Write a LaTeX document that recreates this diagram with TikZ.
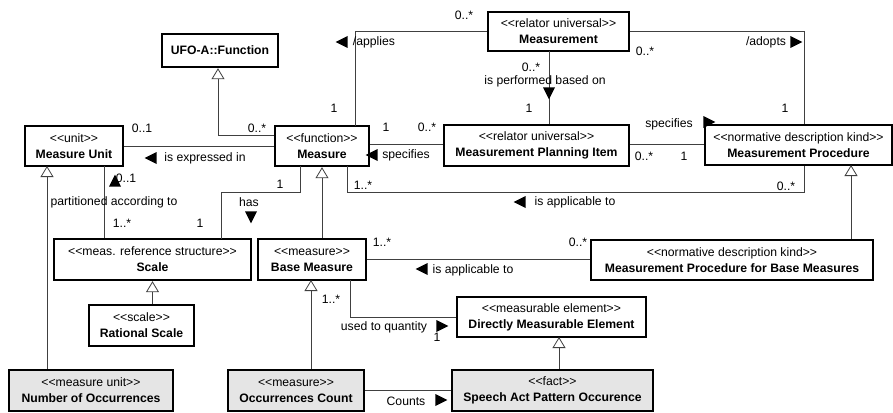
\documentclass[tikz,border=0pt]{standalone}
\usepackage{fontspec}
\setmainfont{Liberation Sans}
\usetikzlibrary{arrows.meta,shapes.geometric}
\newcommand\sto[1]{<\kern0pt<#1>\kern0pt>}
\begin{document}
\begin{tikzpicture}[x=1pt,y=-1pt,
  font=\fontsize{12.2}{16}\selectfont,
  box/.style={draw=black, line width=2.4pt, fill=white, inner sep=0pt, align=center},
  shaded/.style={box, fill=black!10},
  conn/.style={draw=black!75, line width=0.8pt},
  gen/.style={conn, -{Triangle[width=13pt,length=11pt,fill=white]}},
  lbl/.style={inner sep=0pt},
  tri/.style={isosceles triangle, isosceles triangle stretches, fill=black, draw=none,
              inner sep=0pt, minimum height=12pt, minimum width=12pt},
  tl/.style={tri, shape border rotate=180},
  tr/.style={tri, shape border rotate=0},
  tu/.style={tri, shape border rotate=90},
  td/.style={tri, shape border rotate=270}]
\useasboundingbox (0,0) rectangle (893,412);

% bend points of connectors
\coordinate (c1) at (218,135);
\coordinate (c2) at (355,126);
\coordinate (c3) at (549,51);
\coordinate (c4) at (804,32);
\coordinate (c5) at (347,166);
\coordinate (c6) at (104,166);
\coordinate (c7) at (300,166);
\coordinate (c8) at (47,166);
\coordinate (c9) at (851,165);
\coordinate (c10) at (350,280);
\coordinate (c11) at (559,337);

% boxes
\node[box, minimum width=116pt, minimum height=33pt] (ufo) at (220,50.5) {\textbf{UFO-A::Function}};
\node[box, minimum width=98pt, minimum height=40pt] (mu) at (74,146) {\sto{unit}\\\textbf{Measure Unit}};
\node[box, minimum width=94pt, minimum height=40pt] (meas) at (322,146) {\sto{function}\\\textbf{Measure}};
\node[box, minimum width=141pt, minimum height=39pt] (msmt) at (558.5,31.5) {\sto{relator universal}\\\textbf{Measurement}};
\node[box, minimum width=185pt, minimum height=41pt] (mpi) at (536.5,145.5) {\sto{relator universal}\\\textbf{Measurement Planning Item}};
\node[box, minimum width=187pt, minimum height=40pt] (mp) at (798.5,145) {\sto{normative description kind}\\\textbf{Measurement Procedure}};
\node[box, minimum width=197pt, minimum height=41pt] (scale) at (152.5,259.5) {\sto{meas. reference structure}\\\textbf{Scale}};
\node[box, minimum width=105pt, minimum height=41pt] (rs) at (141.5,325.5) {\sto{scale}\\\textbf{Rational Scale}};
\node[box, minimum width=108pt, minimum height=41pt] (bm) at (312,259.5) {\sto{measure}\\\textbf{Base Measure}};
\node[box, minimum width=282pt, minimum height=40pt] (mpbm) at (732,260) {\sto{normative description kind}\\\textbf{Measurement Procedure for Base Measures}};
\node[box, minimum width=189pt, minimum height=40pt] (dme) at (551.5,317) {\sto{measurable element}\\\textbf{Directly Measurable Element}};
\node[shaded, minimum width=164pt, minimum height=41pt] (noo) at (91,390.5) {\sto{measure unit}\\\textbf{Number of Occurrences}};
\node[shaded, minimum width=136pt, minimum height=41pt] (oc) at (296,390.5) {\sto{measure}\\\textbf{Occurrences Count}};
\node[shaded, minimum width=201pt, minimum height=41pt] (sapo) at (552.5,390.5) {\sto{fact}\\\textbf{Speech Act Pattern Occurence}};

% connectors
\draw[conn] (mu.east) -- (meas.west);
\draw[gen] (c1 -| meas.west) -| (c1 |- ufo.south);
\draw[conn] (c2) |- (msmt.west);
\draw[conn] (meas.east |- 0,144) -- (mpi.west |- 0,144);
\draw[conn] (c3) -- (c3 |- mpi.north);
\draw[conn] (msmt.east) -| (c4 |- mp.north);
\draw[conn] (mpi.east |- 0,144) -- (mp.west |- 0,144);
\draw[conn] (c5) -- ++(0,26) -| (c4 |- mp.south);
\draw[conn] (c6) -- (c6 |- scale.north);
\draw[conn] (c7) -- ++(0,26) -| (221,239);
\draw[gen] (c8 |- noo.north) -- (c8);
\draw[gen] (bm.north -| meas.south) -- (meas.south);
\draw[gen] (rs.north -| scale.south) -- (scale.south);
\draw[conn] (bm.east) -- (bm.east -| mpbm.west);
\draw[gen] (c9 |- mpbm.north) -- (c9);
\draw[gen] (oc.north -| 311,0) -- (311,280);
\draw[conn] (c10) |- (dme.west);
\draw[gen] (c11 |- sapo.north) -- (c11);
\draw[conn] (oc.east) -- (oc.east -| sapo.west);

% multiplicities
\node[lbl] (m1) at (142,128) {0..1};
\node[lbl] (m2) at (257,128) {0..*};
\node[lbl] (m3) at (334,108) {1};
\node[lbl] (m4) at (386,127) {1};
\node[lbl] (m5) at (427,127) {0..*};
\node[lbl] (m6) at (464,15) {0..*};
\node[lbl] (m7) at (645,51) {0..*};
\node[lbl] (m8) at (531,67) {0..*};
\node[lbl] (m9) at (529,108) {1};
\node[lbl] (m10) at (785,108) {1};
\node[lbl] (m11) at (644,156) {0..*};
\node[lbl] (m12) at (684,156) {1};
\node[lbl] (m13) at (786,186) {0..*};
\node[lbl] (m14) at (363,185) {1..*};
\node[lbl] (m15) at (126,178) {0..1};
\node[lbl] (m16) at (122,223) {1..*};
\node[lbl] (m17) at (200,223) {1};
\node[lbl] (m18) at (280,184) {1};
\node[lbl] (m19) at (382,242) {1..*};
\node[lbl] (m20) at (578,242) {0..*};
\node[lbl] (m21) at (331,299) {1..*};
\node[lbl] (m22) at (437,337) {1};

% association names with direction triangles
\node[tl] (t1) at (153,158) {};
\node[lbl] (l1) at (205,158) {is expressed in};
\node[tl] (t2) at (344,42) {};
\node[lbl] (l2) at (374,42) {/applies};
\node[tl] (t3) at (374,155) {};
\node[lbl] (l3) at (406,155) {specifies};
\node[lbl] (l4) at (545,81) {is performed based on};
\node[td] (t4) at (549,91) {};
\node[lbl] (l5) at (766,42) {/adopts};
\node[tr] (t5) at (794,42) {};
\node[lbl] (l6) at (669,124) {specifies};
\node[tr] (t6) at (707,122) {};
\node[tl] (t7) at (522,202) {};
\node[lbl] (l7) at (575,202) {is applicable to};
\node[tu] (t8) at (115,183) {};
\node[lbl] (l8) at (114,202) {partitioned according to};
\node[lbl] (l9) at (249,202) {has};
\node[td] (t9) at (251,215) {};
\node[tl] (t10) at (424,269) {};
\node[lbl] (l10) at (473,270) {is applicable to};
\node[lbl] (l11) at (384,327) {used to quantity};
\node[tr] (t11) at (440,326) {};
\node[lbl] (l12) at (406,401) {Counts};
\node[tr] (t12) at (439,400) {};
\end{tikzpicture}
\end{document}
